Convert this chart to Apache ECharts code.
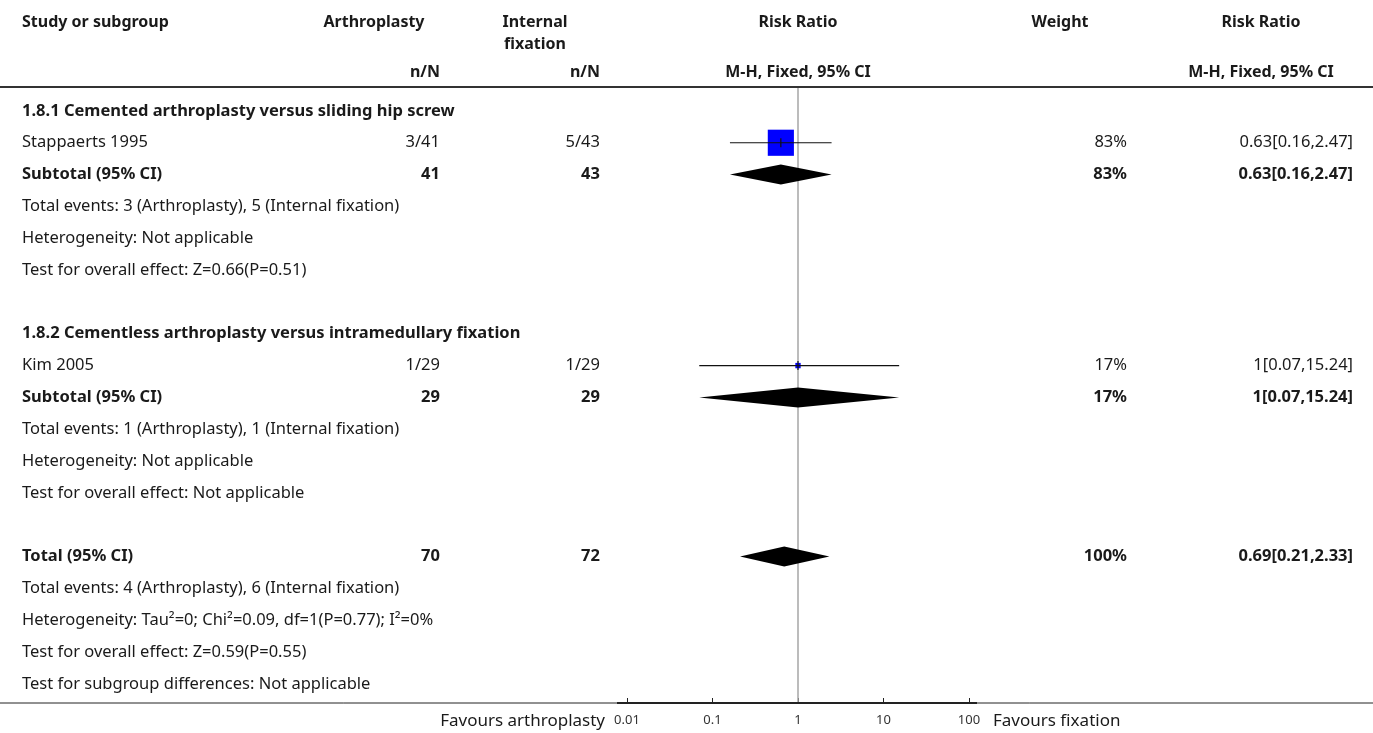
<!DOCTYPE html>
<html>
<head>
<meta charset="utf-8">
<title>Forest plot 1.8</title>
<script src="https://cdn.jsdelivr.net/npm/echarts@6/dist/echarts.min.js"></script>
<style>
  html, body { margin: 0; padding: 0; background: #fff; }
  #chart { width: 1373px; height: 733px; }
</style>
</head>
<body>
<div id="chart"></div>
<script>
// ---- table content, one entry per row (blank strings are spacer rows) ----
const studyCol = [
  '1.8.1 Cemented arthroplasty versus sliding hip screw',
  'Stappaerts 1995',
  'Subtotal (95% CI)',
  'Total events: 3 (Arthroplasty), 5 (Internal fixation)',
  'Heterogeneity: Not applicable',
  'Test for overall effect: Z=0.66(P=0.51)',
  '',
  '1.8.2 Cementless arthroplasty versus intramedullary fixation',
  'Kim 2005',
  'Subtotal (95% CI)',
  'Total events: 1 (Arthroplasty), 1 (Internal fixation)',
  'Heterogeneity: Not applicable',
  'Test for overall effect: Not applicable',
  '',
  'Total (95% CI)',
  'Total events: 4 (Arthroplasty), 6 (Internal fixation)',
  'Heterogeneity: Tau\u00b2=0; Chi\u00b2=0.09, df=1(P=0.77); I\u00b2=0%',
  'Test for overall effect: Z=0.59(P=0.55)',
  'Test for subgroup differences: Not applicable'
];
const arthroplastyCol = ['', '3/41', '41', '', '', '', '', '', '1/29', '29', '', '', '', '', '70', '', '', '', ''];
const fixationCol     = ['', '5/43', '43', '', '', '', '', '', '1/29', '29', '', '', '', '', '72', '', '', '', ''];
const boldRows = [0, 2, 7, 9, 14];

// individual studies
const studyRows   = [1, 8];
const studyRR     = [0.63, 1];
const studyLo     = [0.16, 0.07];
const studyHi     = [2.47, 15.24];
const studyWeight = [83, 17];

// pooled estimates (subtotals and overall total)
const pooledRows   = [2, 9, 14];
const pooledRR     = [0.63, 1, 0.69];
const pooledLo     = [0.16, 0.07, 0.21];
const pooledHi     = [2.47, 15.24, 2.33];
const pooledWeight = [83, 17, 100];

// axis
const tickValues = [0.01, 0.1, 1, 10, 100];
const headerTop = ['Study or subgroup', 'Arthroplasty', 'Internal', 'Risk Ratio', 'Weight', 'Risk Ratio'];
const headerSecond = 'fixation';
const headerSub = ['n/N', 'n/N', 'M-H, Fixed, 95% CI', 'M-H, Fixed, 95% CI'];
const favourLeft = 'Favours arthroplasty';
const favourRight = 'Favours fixation';

// ---- formatting helpers ----
function fmtCI(rr, lo, hi) { return rr + '[' + lo + ',' + hi + ']'; }

// weight and risk-ratio text per row, derived from the estimates
const weightCol = studyCol.map(() => '');
const rrCol = studyCol.map(() => '');
studyRows.forEach((r, k) => {
  weightCol[r] = studyWeight[k] + '%';
  rrCol[r] = fmtCI(studyRR[k], studyLo[k], studyHi[k]);
});
pooledRows.forEach((r, k) => {
  weightCol[r] = pooledWeight[k] + '%';
  rrCol[r] = fmtCI(pooledRR[k], pooledLo[k], pooledHi[k]);
});

const FONT = '"Noto Sans"';
const TXT = '#1a1a1a';
const FS = 16.5;

// column anchors (pixels)
const COL = { study: 22, arthro: 440, fix: 600, weight: 1127, rr: 1353 };

const chart = echarts.init(document.getElementById('chart'), null, { renderer: 'canvas' });

const textData = studyCol.map((_, i) => [1, i]);
const studyData = studyRows.map((r, k) => [studyRR[k], r, studyLo[k], studyHi[k], studyWeight[k]]);
const pooledData = pooledRows.map((r, k) => [pooledRR[k], r, pooledLo[k], pooledHi[k]]);

function txt(x, y, s, align, bold) {
  return {
    type: 'text',
    style: {
      x: x, y: y, text: s, align: align, verticalAlign: 'middle',
      fill: TXT, font: (bold ? 'bold ' : '') + FS + 'px ' + FONT
    }
  };
}
function head(x, y, s, align) {
  return { type: 'text', style: { x: x, y: y, text: s, align: align, verticalAlign: 'middle', fill: TXT, font: 'bold 16px ' + FONT } };
}

const option = {
  animation: false,
  backgroundColor: '#fff',
  grid: { left: 627, width: 342, top: 88, height: 615, containLabel: false },
  xAxis: {
    type: 'log', logBase: 10, min: 0.01, max: 100, position: 'bottom',
    axisLine: { show: true, onZero: false, lineStyle: { color: '#222', width: 2 } },
    axisTick: { show: true, inside: true, length: 5, lineStyle: { color: '#222', width: 1 } },
    axisLabel: {
      show: true, margin: 11, fontSize: 13, color: '#333', fontFamily: 'Noto Sans',
      formatter: v => {
        const hit = tickValues.find(t => Math.abs(Math.log10(t) - Math.log10(v)) < 1e-6);
        return hit === undefined ? '' : String(hit);
      }
    },
    splitLine: { show: false }
  },
  yAxis: {
    type: 'value', inverse: true, min: -0.72, max: 18.6,
    show: false
  },
  graphic: [
    // header rule and bottom rule spanning the full width
    { type: 'line', shape: { x1: 0, y1: 87, x2: 1373, y2: 87 }, style: { stroke: '#333', lineWidth: 2 }, z: 10 },
    { type: 'line', shape: { x1: 0, y1: 703, x2: 1373, y2: 703 }, style: { stroke: '#222', lineWidth: 1 }, z: 10 },
    { type: 'line', shape: { x1: 617, y1: 703, x2: 977, y2: 703 }, style: { stroke: '#222', lineWidth: 2 }, z: 10 },
    // header text
    head(22, 22, headerTop[0], 'left'),
    head(374, 22, headerTop[1], 'center'),
    head(535, 22, headerTop[2], 'center'),
    head(535, 44, headerSecond, 'center'),
    head(798, 22, headerTop[3], 'center'),
    head(1060, 22, headerTop[4], 'center'),
    head(1261, 22, headerTop[5], 'center'),
    head(440, 72, headerSub[0], 'right'),
    head(600, 72, headerSub[1], 'right'),
    head(798, 72, headerSub[2], 'center'),
    head(1261, 72, headerSub[3], 'center'),
    // favours labels under the axis
    { type: 'text', style: { x: 605, y: 721, text: favourLeft, align: 'right', verticalAlign: 'middle', fill: TXT, font: '17px ' + FONT } },
    { type: 'text', style: { x: 993, y: 721, text: favourRight, align: 'left', verticalAlign: 'middle', fill: TXT, font: '17px ' + FONT } }
  ],
  series: [
    {
      // table text, one group per row
      type: 'custom',
      clip: false,
      data: textData,
      renderItem: (params, api) => {
        const i = api.value(1);
        const y = api.coord([1, i])[1];
        const bold = boldRows.indexOf(i) >= 0;
        return {
          type: 'group',
          children: [
            txt(COL.study, y, studyCol[i], 'left', bold),
            txt(COL.arthro, y, arthroplastyCol[i], 'right', bold),
            txt(COL.fix, y, fixationCol[i], 'right', bold),
            txt(COL.weight, y, weightCol[i], 'right', bold),
            txt(COL.rr, y, rrCol[i], 'right', bold)
          ]
        };
      },
      markLine: {
        silent: true, symbol: 'none', label: { show: false },
        lineStyle: { color: '#a6a6a6', width: 1.5, type: 'solid' },
        data: [{ xAxis: 1 }]
      },
      z: 3
    },
    {
      // individual study estimates: CI line, weighted square, centre tick
      type: 'custom',
      clip: false,
      data: studyData,
      renderItem: (params, api) => {
        const c = api.coord([api.value(0), api.value(1)]);
        const lo = api.coord([api.value(2), api.value(1)]);
        const hi = api.coord([api.value(3), api.value(1)]);
        const s = Math.max(api.value(4) * 0.315, 4);
        return {
          type: 'group',
          children: [
            { type: 'rect', shape: { x: c[0] - s / 2, y: c[1] - s / 2, width: s, height: s }, style: { fill: '#0000ff' } },
            { type: 'line', shape: { x1: lo[0], y1: c[1], x2: hi[0], y2: c[1] }, style: { stroke: '#111', lineWidth: 1.2 } },
            { type: 'line', shape: { x1: c[0], y1: c[1] - 4.5, x2: c[0], y2: c[1] + 4.5 }, style: { stroke: '#111', lineWidth: 1.2 } }
          ]
        };
      },
      z: 5
    },
    {
      // pooled estimates as diamonds
      type: 'custom',
      clip: false,
      data: pooledData,
      renderItem: (params, api) => {
        const c = api.coord([api.value(0), api.value(1)]);
        const lo = api.coord([api.value(2), api.value(1)]);
        const hi = api.coord([api.value(3), api.value(1)]);
        const h = 10;
        return {
          type: 'polygon',
          shape: { points: [[lo[0], c[1]], [c[0], c[1] - h], [hi[0], c[1]], [c[0], c[1] + h]] },
          style: { fill: '#000' }
        };
      },
      z: 5
    }
  ]
};

chart.setOption(option);
</script>
</body>
</html>
